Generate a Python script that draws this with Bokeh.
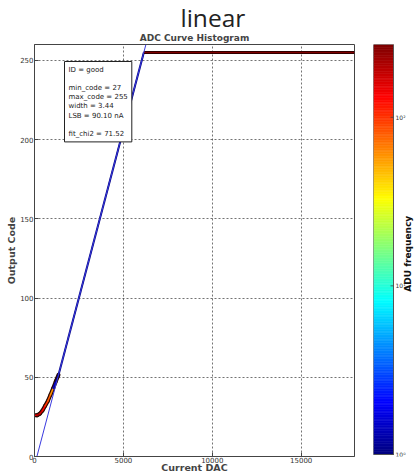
import numpy as np
from bokeh.plotting import figure
from bokeh.layouts import row
from bokeh.core.properties import value
from bokeh.models import (Range1d, FixedTicker, LogColorMapper, Label, Title, ColumnDataSource)
from bokeh.transform import transform
from bokeh.embed import file_html
from bokeh.resources import INLINE

# ---------------- data ----------------
# curved low part of the ADC curve (DAC, output code) and per-segment frequency
curve_dac = [0, 150, 300, 450, 600, 750, 900, 1050, 1200, 1350]
curve_code = [26, 26, 27, 29, 32, 35, 39, 43, 47.5, 51.5]
curve_freq = [150, 200, 170, 130, 100, 80, 60, 1.5, 1]
# linear part
lin_dac = [1350, 6150]
lin_code = [51.5, 255]
lin_freq = [1]
# saturated part
sat_dac = [6150, 18000]
sat_code = [255, 255]
sat_freq = [270]
# linear fit
fit_dac = [135, 6267]
fit_code = [0, 260]

info_lines = ["ID = good", "", "min_code = 27", "max_code = 255", "width = 3.44",
              "LSB = 90.10 nA", "", "fit_chi2 = 71.52"]

x_ticks = [0, 5000, 10000, 15000]
y_ticks = [0, 50, 100, 150, 200, 250]
cb_ticks = [1, 10, 100]
cb_labels = ["10\u2070", "10\u00b9", "10\u00b2"]
cb_low, cb_high = 1, 270


def jet(n=256):
    cols = []
    for i in range(n):
        t = i / (n - 1)
        r = min(max(1.5 - abs(4 * t - 3), 0), 1)
        g = min(max(1.5 - abs(4 * t - 2), 0), 1)
        b = min(max(1.5 - abs(4 * t - 1), 0), 1)
        cols.append("#%02x%02x%02x" % (int(r * 255), int(g * 255), int(b * 255)))
    return cols


palette = jet()
mapper = LogColorMapper(palette=palette, low=cb_low, high=cb_high)

FONT = "DejaVu Sans"

p = figure(width=362, height=475, x_range=Range1d(0, 18000), y_range=Range1d(0, 260),
           output_backend="svg", toolbar_location=None, title=None,
           min_border_left=34, min_border_right=8, min_border_top=44, min_border_bottom=18)
p.background_fill_color = "white"
p.border_fill_color = "white"
p.outline_line_color = "#444444"
p.outline_line_width = 1

t1 = Title(text="ADC Curve Histogram", align="center", text_font=FONT,
           text_font_size="9px", text_font_style="bold", standoff=4)
p.add_layout(t1, "above")
t2 = Title(text="linear", align="left", offset=146, text_font="Open Sans",
           text_font_size="24.5px", text_font_style="normal", text_color="#222222", standoff=-10)
p.add_layout(t2, "above")

# grid
p.xgrid.ticker = FixedTicker(ticks=x_ticks)
p.ygrid.ticker = FixedTicker(ticks=y_ticks)
p.grid.grid_line_color = "#222222"
p.grid.grid_line_dash = "2 2"
p.grid.grid_line_width = 0.8
p.grid.grid_line_alpha = 0.8

for ax, ticks, lab in ((p.xaxis, x_ticks, "Current DAC"), (p.yaxis, y_ticks, "Output Code")):
    ax.ticker = FixedTicker(ticks=ticks)
    ax.axis_label = lab
    ax.axis_label_text_font = FONT
    ax.axis_label_text_font_size = "9.5px"
    ax.axis_label_text_font_style = "bold"
    ax.major_label_text_font = FONT
    ax.major_label_text_font_size = "7px"
    ax.major_label_text_color = "#333333"
    ax.major_tick_in = 4
    ax.major_tick_out = 0
    ax.minor_tick_line_color = None
    ax.axis_line_color = "#444444"
    ax.major_tick_line_color = "#444444"
p.xaxis.axis_label_standoff = -4
p.xaxis.major_label_standoff = 0
p.yaxis.axis_label_standoff = 0
p.yaxis.major_label_standoff = 1

# ---- histogram-like data curve ----
seg_xs = [[curve_dac[i], curve_dac[i + 1]] for i in range(len(curve_dac) - 1)]
seg_ys = [[curve_code[i], curve_code[i + 1]] for i in range(len(curve_code) - 1)]
src_lo = ColumnDataSource(dict(xs=seg_xs, ys=seg_ys, f=curve_freq))
p.multi_line("xs", "ys", source=src_lo, line_color="#2a0800", line_width=4, line_cap="round")
p.multi_line("xs", "ys", source=src_lo, line_color=transform("f", mapper), line_width=1.6,
             line_cap="round")

src_lin = ColumnDataSource(dict(xs=[lin_dac], ys=[lin_code], f=lin_freq))
p.multi_line("xs", "ys", source=src_lin, line_color=transform("f", mapper), line_width=2)

src_sat = ColumnDataSource(dict(xs=[sat_dac], ys=[sat_code], f=sat_freq))
p.multi_line("xs", "ys", source=src_sat, line_color="#1a0000", line_width=3)
p.multi_line("xs", "ys", source=src_sat, line_color=transform("f", mapper), line_width=1.5)

p.line(fit_dac, fit_code, line_color="#3a3adf", line_width=1)

info = Label(x=30, y=395, x_units="screen", y_units="screen", text="\n".join(info_lines),
             text_font=FONT, text_font_size="7px", text_color="#222222",
             text_baseline="top", text_align="left", text_line_height=1.15,
             background_fill_color="white", border_line_color="#222222",
             border_line_width=1, padding=4)
p.add_layout(info)

# ---------------- colour bar figure ----------------
cbf = figure(width=56, height=475, x_range=Range1d(0, 45), y_range=Range1d(0.973, cb_high),
             y_axis_type="log", output_backend="svg", toolbar_location=None, title=None,
             min_border_left=11, min_border_right=0, min_border_top=44, min_border_bottom=18)
cbf.axis.visible = False
cbf.grid.visible = False
cbf.outline_line_color = None
cbf.background_fill_color = "white"
cbf.border_fill_color = "white"

n = len(palette)
edges = 10 ** np.linspace(np.log10(cb_low), np.log10(cb_high), n + 1)
cbf.quad(left=0, right=20, bottom=edges[:-1], top=edges[1:], fill_color=palette,
         line_color=palette, line_width=0.6)
cbf.quad(left=[0], right=[20], bottom=[cb_low], top=[cb_high], fill_color=None,
         line_color="#555555", line_width=1)
cbf.segment(x0=17, x1=20, y0=cb_ticks, y1=cb_ticks, line_color="#444444", line_width=0.8)
cbf.text(x=22, y=cb_ticks, text=cb_labels, text_font_size="6px", text_font=value(FONT),
         text_color="#333333", text_baseline="middle", text_align="left")
cbf.text(x=[34], y=[15.5], text=["ADU frequency"], angle=np.pi / 2, text_align="center",
         text_baseline="middle", text_font_size="9px", text_font=value(FONT),
         text_font_style="bold", text_color="#111111")

layout = row(p, cbf)
open("out.html", "w").write(file_html(layout, INLINE))
